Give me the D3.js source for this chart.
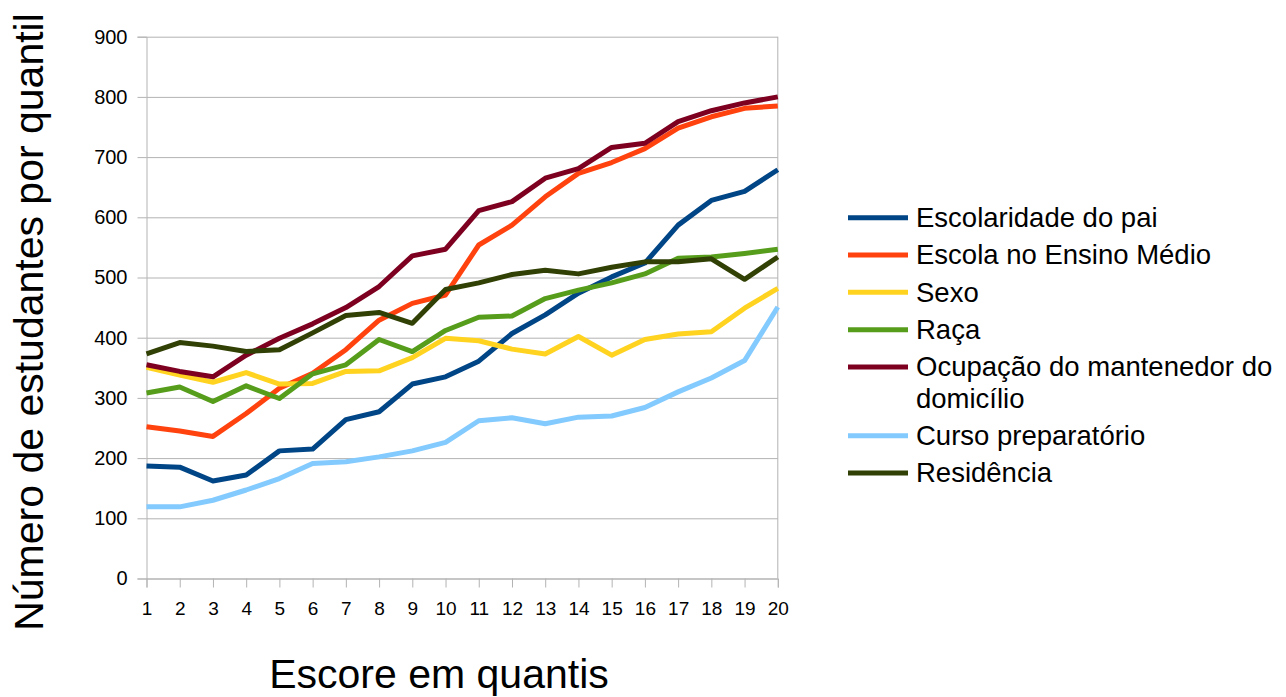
<!DOCTYPE html>
<html>
<head>
<meta charset="utf-8">
<script src="https://cdn.jsdelivr.net/npm/d3@7"></script>
<style>
  html, body { margin: 0; padding: 0; background: #fff; }
  svg { display: block; font-family: "Liberation Sans", Arial, sans-serif; }
</style>
</head>
<body>
<svg id="chart" width="1286" height="697"></svg>
<script>
const quantis = [1,2,3,4,5,6,7,8,9,10,11,12,13,14,15,16,17,18,19,20];
const yTicks = [0,100,200,300,400,500,600,700,800,900];

const escolaridadePai = [187,185,162,172,212,215,264,277,323,335,361,407,438,474,501,524,587,628,643,679];
const escolaEnsinoMedio = [252,245,236,274,316,341,380,429,457,471,554,587,634,673,691,714,748,767,781,785];
const sexo = [351,338,326,342,323,324,344,345,367,399,395,381,373,402,371,397,406,410,449,482];
const raca = [308,318,294,320,299,340,355,397,377,412,434,436,465,479,491,506,532,534,540,547];
const ocupacao = [355,344,335,371,399,423,450,485,536,547,611,626,665,681,716,723,759,777,790,800];
const cursoPreparatorio = [119,119,130,147,166,191,194,202,212,226,262,267,257,268,270,284,310,333,362,451];
const residencia = [373,392,386,377,380,408,437,442,424,480,491,505,512,506,517,526,526,531,497,534];

const seriesNames = [
  "Escolaridade do pai",
  "Escola no Ensino Médio",
  "Sexo",
  "Raça",
  "Ocupação do mantenedor do domicílio",
  "Curso preparatório",
  "Residência"
];
const seriesValues = [escolaridadePai, escolaEnsinoMedio, sexo, raca, ocupacao, cursoPreparatorio, residencia];
const colors = ["#004586", "#ff420e", "#ffd320", "#579d1c", "#7e0021", "#83caff", "#314004"];

const series = seriesNames.map((name, i) => ({name, values: seriesValues[i], color: colors[i]}));

(function () {
const svg = d3.select("#chart");
const pLeft = 146.5, pRight = 777.8, pTop = 36.7, pBottom = 578.5;

const x = d3.scaleLinear().domain([1, 20]).range([pLeft, pRight]);
const y = d3.scaleLinear().domain([0, 900]).range([pBottom, pTop]);

const gridColor = "#b3b3b3";

// gridlines
svg.append("g")
  .attr("transform", `translate(${pLeft},0)`)
  .call(d3.axisLeft(y).tickValues(yTicks).tickSize(-(pRight - pLeft)).tickFormat(""))
  .call(g => g.select(".domain").remove())
  .call(g => g.selectAll("line").attr("stroke", gridColor).attr("stroke-width", 1));

// right border
svg.append("line")
  .attr("x1", pRight).attr("x2", pRight).attr("y1", pTop).attr("y2", pBottom)
  .attr("stroke", gridColor).attr("stroke-width", 1);

// y axis
svg.append("g")
  .attr("transform", `translate(${pLeft},0)`)
  .call(d3.axisLeft(y).tickValues(yTicks).tickSize(9).tickPadding(10))
  .call(g => g.select(".domain").attr("stroke", gridColor))
  .call(g => g.selectAll("line").attr("stroke", gridColor))
  .call(g => g.selectAll("text").attr("font-size", 20).attr("fill", "#000")
     .attr("font-family", "'Liberation Sans', Arial, sans-serif"));

// x axis
svg.append("g")
  .attr("transform", `translate(0,${pBottom})`)
  .call(d3.axisBottom(x).tickValues(quantis).tickSize(9).tickPadding(14).tickFormat(d3.format("d")))
  .call(g => g.select(".domain").attr("stroke", gridColor))
  .call(g => g.selectAll("line").attr("stroke", gridColor))
  .call(g => g.selectAll("text").attr("font-size", 19).attr("fill", "#000")
     .attr("font-family", "'Liberation Sans', Arial, sans-serif"));

// lines
const line = d3.line().x((d, i) => x(quantis[i])).y(d => y(d));
svg.append("g").selectAll("path").data(series).join("path")
  .attr("d", d => line(d.values))
  .attr("fill", "none")
  .attr("stroke", d => d.color)
  .attr("stroke-width", 5)
  .attr("stroke-linejoin", "round");

// axis titles
svg.append("text")
  .attr("transform", "translate(43,322) rotate(-90)")
  .attr("text-anchor", "middle")
  .attr("font-size", 41)
  .attr("fill", "#000")
  .text("Número de estudantes por quantil");

svg.append("text")
  .attr("x", 439).attr("y", 688)
  .attr("text-anchor", "middle")
  .attr("font-size", 41)
  .attr("fill", "#000")
  .text("Escore em quantis");

// legend
const legendRows = [217.7, 255, 292.3, 329.7, 367, 435.7, 473];
const legendLines = [["Escolaridade do pai"], ["Escola no Ensino Médio"], ["Sexo"], ["Raça"],
  ["Ocupação do mantenedor do", "domicílio"], ["Curso preparatório"], ["Residência"]];
const lg = svg.append("g");
series.forEach((s, i) => {
  const yy = legendRows[i];
  lg.append("line").attr("x1", 848).attr("x2", 908).attr("y1", yy).attr("y2", yy)
    .attr("stroke", s.color).attr("stroke-width", 5);
  const t = lg.append("text").attr("x", 916).attr("y", yy + 9.3)
    .attr("font-size", 27.5).attr("fill", "#000");
  legendLines[i].forEach((ln, j) => {
    t.append("tspan").attr("x", 916).attr("dy", j === 0 ? 0 : 31.6).text(ln);
  });
});
})();
</script>
</body>
</html>
